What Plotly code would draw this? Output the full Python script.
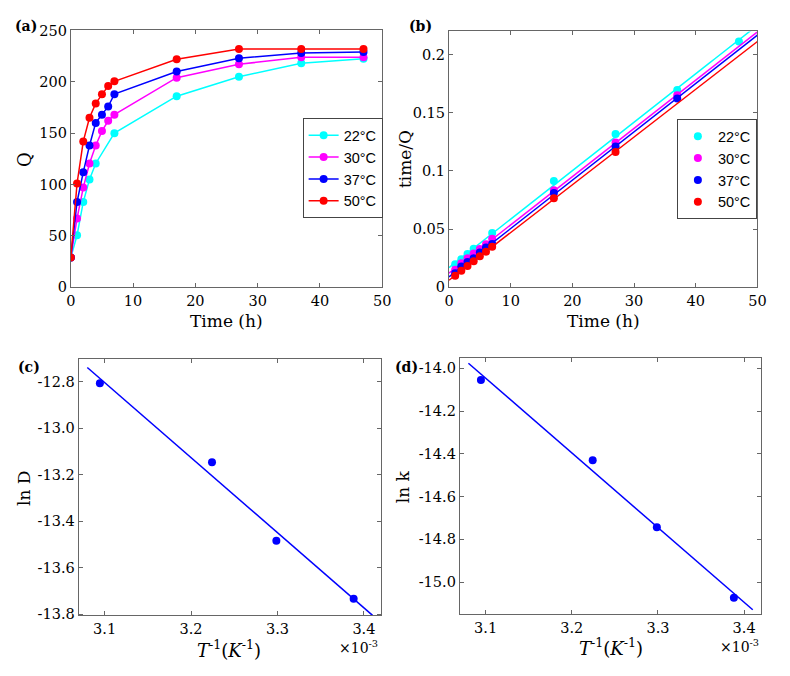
import numpy as np
import plotly.graph_objects as go

# ---------------- data ----------------
temps_label = ["22°C", "30°C", "37°C", "50°C"]
temps_C = [22, 30, 37, 50]
colors = ["#00FFFF", "#FF00FF", "#0000FF", "#FF0000"]

# (a) uptake Q vs time
t_22 = [0, 1, 2, 3, 4, 7, 17, 27, 37, 47]
Q_22 = [29, 50.5, 83, 105, 120.5, 150, 186, 205, 218, 222.5]
t_30 = [0, 1, 2, 3, 4, 5, 6, 7, 17, 27, 37, 47]
Q_30 = [29, 67, 97, 120.5, 138, 152, 162, 168, 204, 217, 224, 224]
t_37 = [0, 1, 2, 3, 4, 5, 6, 7, 17, 27, 37, 47]
Q_37 = [29, 83, 112, 138, 160, 168, 176, 188, 210, 223, 228, 229]
t_50 = [0, 1, 2, 3, 4, 5, 6, 7, 17, 27, 37, 47]
Q_50 = [29, 101, 142, 165, 179, 188, 196, 200.5, 222, 232, 232, 232]

# (b) points used in the pseudo-second-order plot (time/Q)
tb_22 = [1, 2, 3, 4, 7, 17, 27, 37, 47]
tb_30 = [1, 2, 3, 4, 5, 6, 7, 17, 27, 37]
tb_37 = [1, 2, 3, 4, 5, 6, 7, 17, 27, 37]
tb_50 = [1, 2, 3, 4, 5, 6, 7, 17, 27]

# (c), (d) Arrhenius data
lnD = [-13.734, -13.484, -13.146, -12.807]
lnk = [-15.073, -14.743, -14.43, -14.055]
fit_x_range = [3.08, 3.41]  # 1e-3 K^-1

W, H = 790, 676
serif = "DejaVu Serif"
sans = "Liberation Sans"
frame = "#666666"


def px(x):
    return x / W


def py(y):
    return 1 - y / H


fig = go.Figure()

series_a = [(t_22, Q_22), (t_30, Q_30), (t_37, Q_37), (t_50, Q_50)]
series_b = [tb_22, tb_30, tb_37, tb_50]

for (t, Q), lab, c in zip(series_a, temps_label, colors):
    fig.add_trace(go.Scatter(x=t, y=Q, mode="lines+markers", name=lab,
                             line=dict(color=c, width=1.5),
                             marker=dict(color=c, size=8),
                             xaxis="x", yaxis="y", legend="legend"))

tfit = np.linspace(0, 50, 101)
for (t, Q), tb, lab, c in zip(series_a, series_b, temps_label, colors):
    qmap = dict(zip(t, Q))
    tb_arr = np.array(tb, dtype=float)
    tq = np.array([tt / qmap[tt] for tt in tb])
    fig.add_trace(go.Scatter(x=tb_arr, y=tq, mode="markers", name=lab,
                             marker=dict(color=c, size=8),
                             xaxis="x2", yaxis="y2", legend="legend2"))
    slope, icpt = np.polyfit(tb_arr, tq, 1)
    fig.add_trace(go.Scatter(x=tfit, y=icpt + slope * tfit, mode="lines",
                             line=dict(color=c, width=1.5), showlegend=False,
                             xaxis="x2", yaxis="y2", hoverinfo="skip"))

invT = np.array([1000.0 / (T + 273.15) for T in temps_C])
xf = np.linspace(fit_x_range[0], fit_x_range[1], 50)
for vals, xa, ya in [(lnD, "x3", "y3"), (lnk, "x4", "y4")]:
    v = np.array(vals)
    fig.add_trace(go.Scatter(x=invT, y=v, mode="markers",
                             marker=dict(color="#0000FF", size=8),
                             showlegend=False, xaxis=xa, yaxis=ya))
    s, b = np.polyfit(invT, v, 1)
    fig.add_trace(go.Scatter(x=xf, y=b + s * xf, mode="lines",
                             line=dict(color="#0000FF", width=1.5),
                             showlegend=False, xaxis=xa, yaxis=ya))

common = dict(showline=True, linecolor=frame, linewidth=1, mirror="ticks",
              ticks="inside", ticklen=4, tickcolor=frame, showgrid=False,
              zeroline=False, tickfont=dict(family=serif, size=14.5, color="black"))

def ticks_text(vals):
    return [f"{v:.1f}" for v in vals]

yc = [-12.8, -13.0, -13.2, -13.4, -13.6, -13.8]
yd = [-14.0, -14.2, -14.4, -14.6, -14.8, -15.0]

leg_common = dict(xanchor="left", yanchor="top", bordercolor="#444", borderwidth=1,
                  bgcolor="white", font=dict(family=sans, size=14.5, color="black"),
                  itemwidth=30, tracegroupgap=0)

fig.update_layout(
    width=W, height=H, margin=dict(l=0, r=0, t=0, b=0),
    paper_bgcolor="white", plot_bgcolor="white",
    xaxis=dict(domain=[px(67), px(384)], range=[0, 50], dtick=10, anchor="y", **common),
    yaxis=dict(domain=[py(286), py(23)], range=[0, 250], dtick=50, anchor="x", **common),
    xaxis2=dict(domain=[px(452), px(766)], range=[0, 50], dtick=10, anchor="y2", **common),
    yaxis2=dict(domain=[py(286), py(24)], range=[0, 0.22], tickvals=[0, 0.05, 0.1, 0.15, 0.2],
                ticktext=["0", "0.05", "0.1", "0.15", "0.2"], anchor="x2", **common),
    xaxis3=dict(domain=[px(75), px(383)], range=[3.07, 3.42], tickvals=[3.1, 3.2, 3.3, 3.4],
                ticktext=["3.1", "3.2", "3.3", "3.4"], anchor="y3", **common),
    yaxis3=dict(domain=[py(622), py(359)], range=[-13.805, -12.7], tickvals=yc,
                ticktext=ticks_text(yc), anchor="x3", **common),
    xaxis4=dict(domain=[px(463), px(770)], range=[3.07, 3.42], tickvals=[3.1, 3.2, 3.3, 3.4],
                ticktext=["3.1", "3.2", "3.3", "3.4"], anchor="y4", **common),
    yaxis4=dict(domain=[py(621), py(358)], range=[-15.15, -13.95], tickvals=yd,
                ticktext=ticks_text(yd), anchor="x4", **common),
    legend=dict(x=px(303), y=py(113), **leg_common),
    legend2=dict(x=px(684), y=py(114), **leg_common),
    showlegend=True,
)

ann = []
def add_text(text, x, y, size=17, angle=0, bold=False, xanchor="center", fam=serif):
    ann.append(dict(text=f"<b>{text}</b>" if bold else text, x=px(x), y=py(y),
                    xref="paper", yref="paper", showarrow=False, textangle=angle,
                    xanchor=xanchor, yanchor="middle",
                    font=dict(family=fam, size=size, color="black")))

add_text("(a)", 8, 18, size=14, bold=True, xanchor="left")
add_text("(b)", 409, 18, size=14, bold=True, xanchor="left")
add_text("(c)", 11, 368, size=14, bold=True, xanchor="left")
add_text("(d)", 395, 368, size=14, bold=True, xanchor="left")
add_text("Time (h)", 226, 321)
add_text("Time (h)", 609, 321)
add_text("Q", 20, 155, size=18, angle=-90)
add_text("time/Q", 408, 155, angle=-90)
add_text("ln D", 20, 492, angle=-90)
add_text("ln k", 406, 490, angle=-90)
add_text("<i>T</i><sup>-1</sup>(<i>K</i><sup>-1</sup>)", 228, 657, size=18)
add_text("<i>T</i><sup>-1</sup>(<i>K</i><sup>-1</sup>)", 617, 654, size=18)
add_text("×10<sup>-3</sup>", 360, 654, size=14)
add_text("×10<sup>-3</sup>", 748, 653, size=14)
fig.update_layout(annotations=ann)

fig.write_html("out.html", config={"displayModeBar": False},
               post_script="document.body.style.margin='0';")
